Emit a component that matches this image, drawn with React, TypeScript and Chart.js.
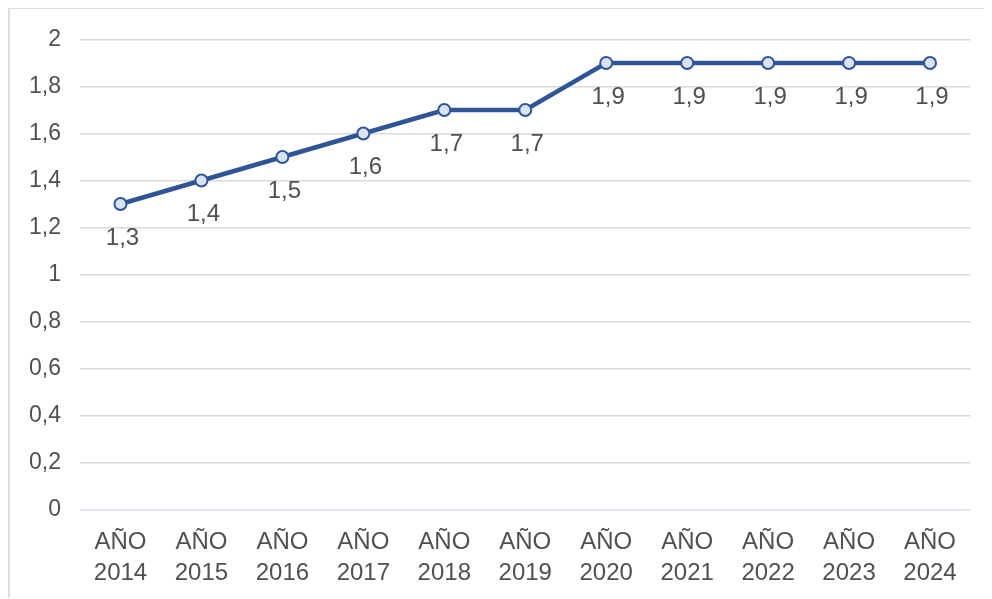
import React, { useEffect, useRef } from "react";
import { Chart, registerables } from "chart.js";

Chart.register(...registerables);

const years = ["2014", "2015", "2016", "2017", "2018", "2019", "2020", "2021", "2022", "2023", "2024"];
const values = [1.3, 1.4, 1.5, 1.6, 1.7, 1.7, 1.9, 1.9, 1.9, 1.9, 1.9];
const categoryLabels = years.map((y) => ["AÑO", y]);

const FONT = "'Liberation Sans', Arial, Helvetica, sans-serif";
const TEXT = "#505050";
const LINE = "#2F5597";

const fmt = (v: number) => String(v).replace(".", ",");

// Writes each point's value a little below its marker
const valueLabels = {
  id: "valueLabels",
  afterDatasetsDraw(chart: any) {
    const ctx = chart.ctx;
    const meta = chart.getDatasetMeta(0);
    ctx.save();
    ctx.font = `24px ${FONT}`;
    ctx.fillStyle = TEXT;
    ctx.textAlign = "center";
    ctx.textBaseline = "middle";
    meta.data.forEach((pt: any, i: number) => {
      ctx.fillText(fmt(values[i]), pt.x + 2, pt.y + 34);
    });
    ctx.restore();
  },
};

export default function App() {
  const ref = useRef<HTMLCanvasElement>(null);

  useEffect(() => {
    if (!ref.current) return;
    const chart = new Chart(ref.current, {
      type: "line",
      data: {
        labels: categoryLabels,
        datasets: [
          {
            data: values,
            borderColor: LINE,
            borderWidth: 4.5,
            pointRadius: 6,
            pointBorderWidth: 2,
            pointBackgroundColor: "#DAE3F3",
            pointBorderColor: LINE,
            tension: 0,
          },
        ],
      },
      options: {
        animation: false,
        responsive: false,
        layout: { padding: { top: 20, right: 21.5, bottom: 1, left: 0 } },
        plugins: { legend: { display: false }, tooltip: { enabled: false } },
        scales: {
          x: {
            offset: true,
            grid: { display: false },
            border: { display: false },
            ticks: {
              color: TEXT,
              font: { family: FONT, size: 24, lineHeight: 1.3 },
              padding: 9,
              maxRotation: 0,
              autoSkip: false,
            },
          },
          y: {
            min: 0,
            max: 2,
            afterFit: (s: any) => {
              s.width = 70;
            },
            grid: {
              drawTicks: false,
              lineWidth: 1.5,
              color: (c: any) => (c.tick && c.tick.value === 0 ? "#D6E0F0" : "#D9D9D9"),
            },
            border: { display: false },
            ticks: {
              stepSize: 0.2,
              color: TEXT,
              padding: 19,
              font: { family: FONT, size: 23, lineHeight: 1.0 },
              callback: (v: any) => fmt(Math.round(Number(v) * 10) / 10),
            },
          },
        },
      },
      plugins: [valueLabels],
    });
    return () => chart.destroy();
  }, []);

  return (
    <div
      style={{
        position: "relative",
        width: 984,
        height: 591,
        boxSizing: "border-box",
        borderTop: "2px solid #DCDCDC",
        borderLeft: "2px solid #DCDCDC",
        overflow: "hidden",
        background: "#fff",
        marginTop: -1,
      }}
    >
      <canvas ref={ref} width={982} height={590} style={{ display: "block" }} />
    </div>
  );
}
